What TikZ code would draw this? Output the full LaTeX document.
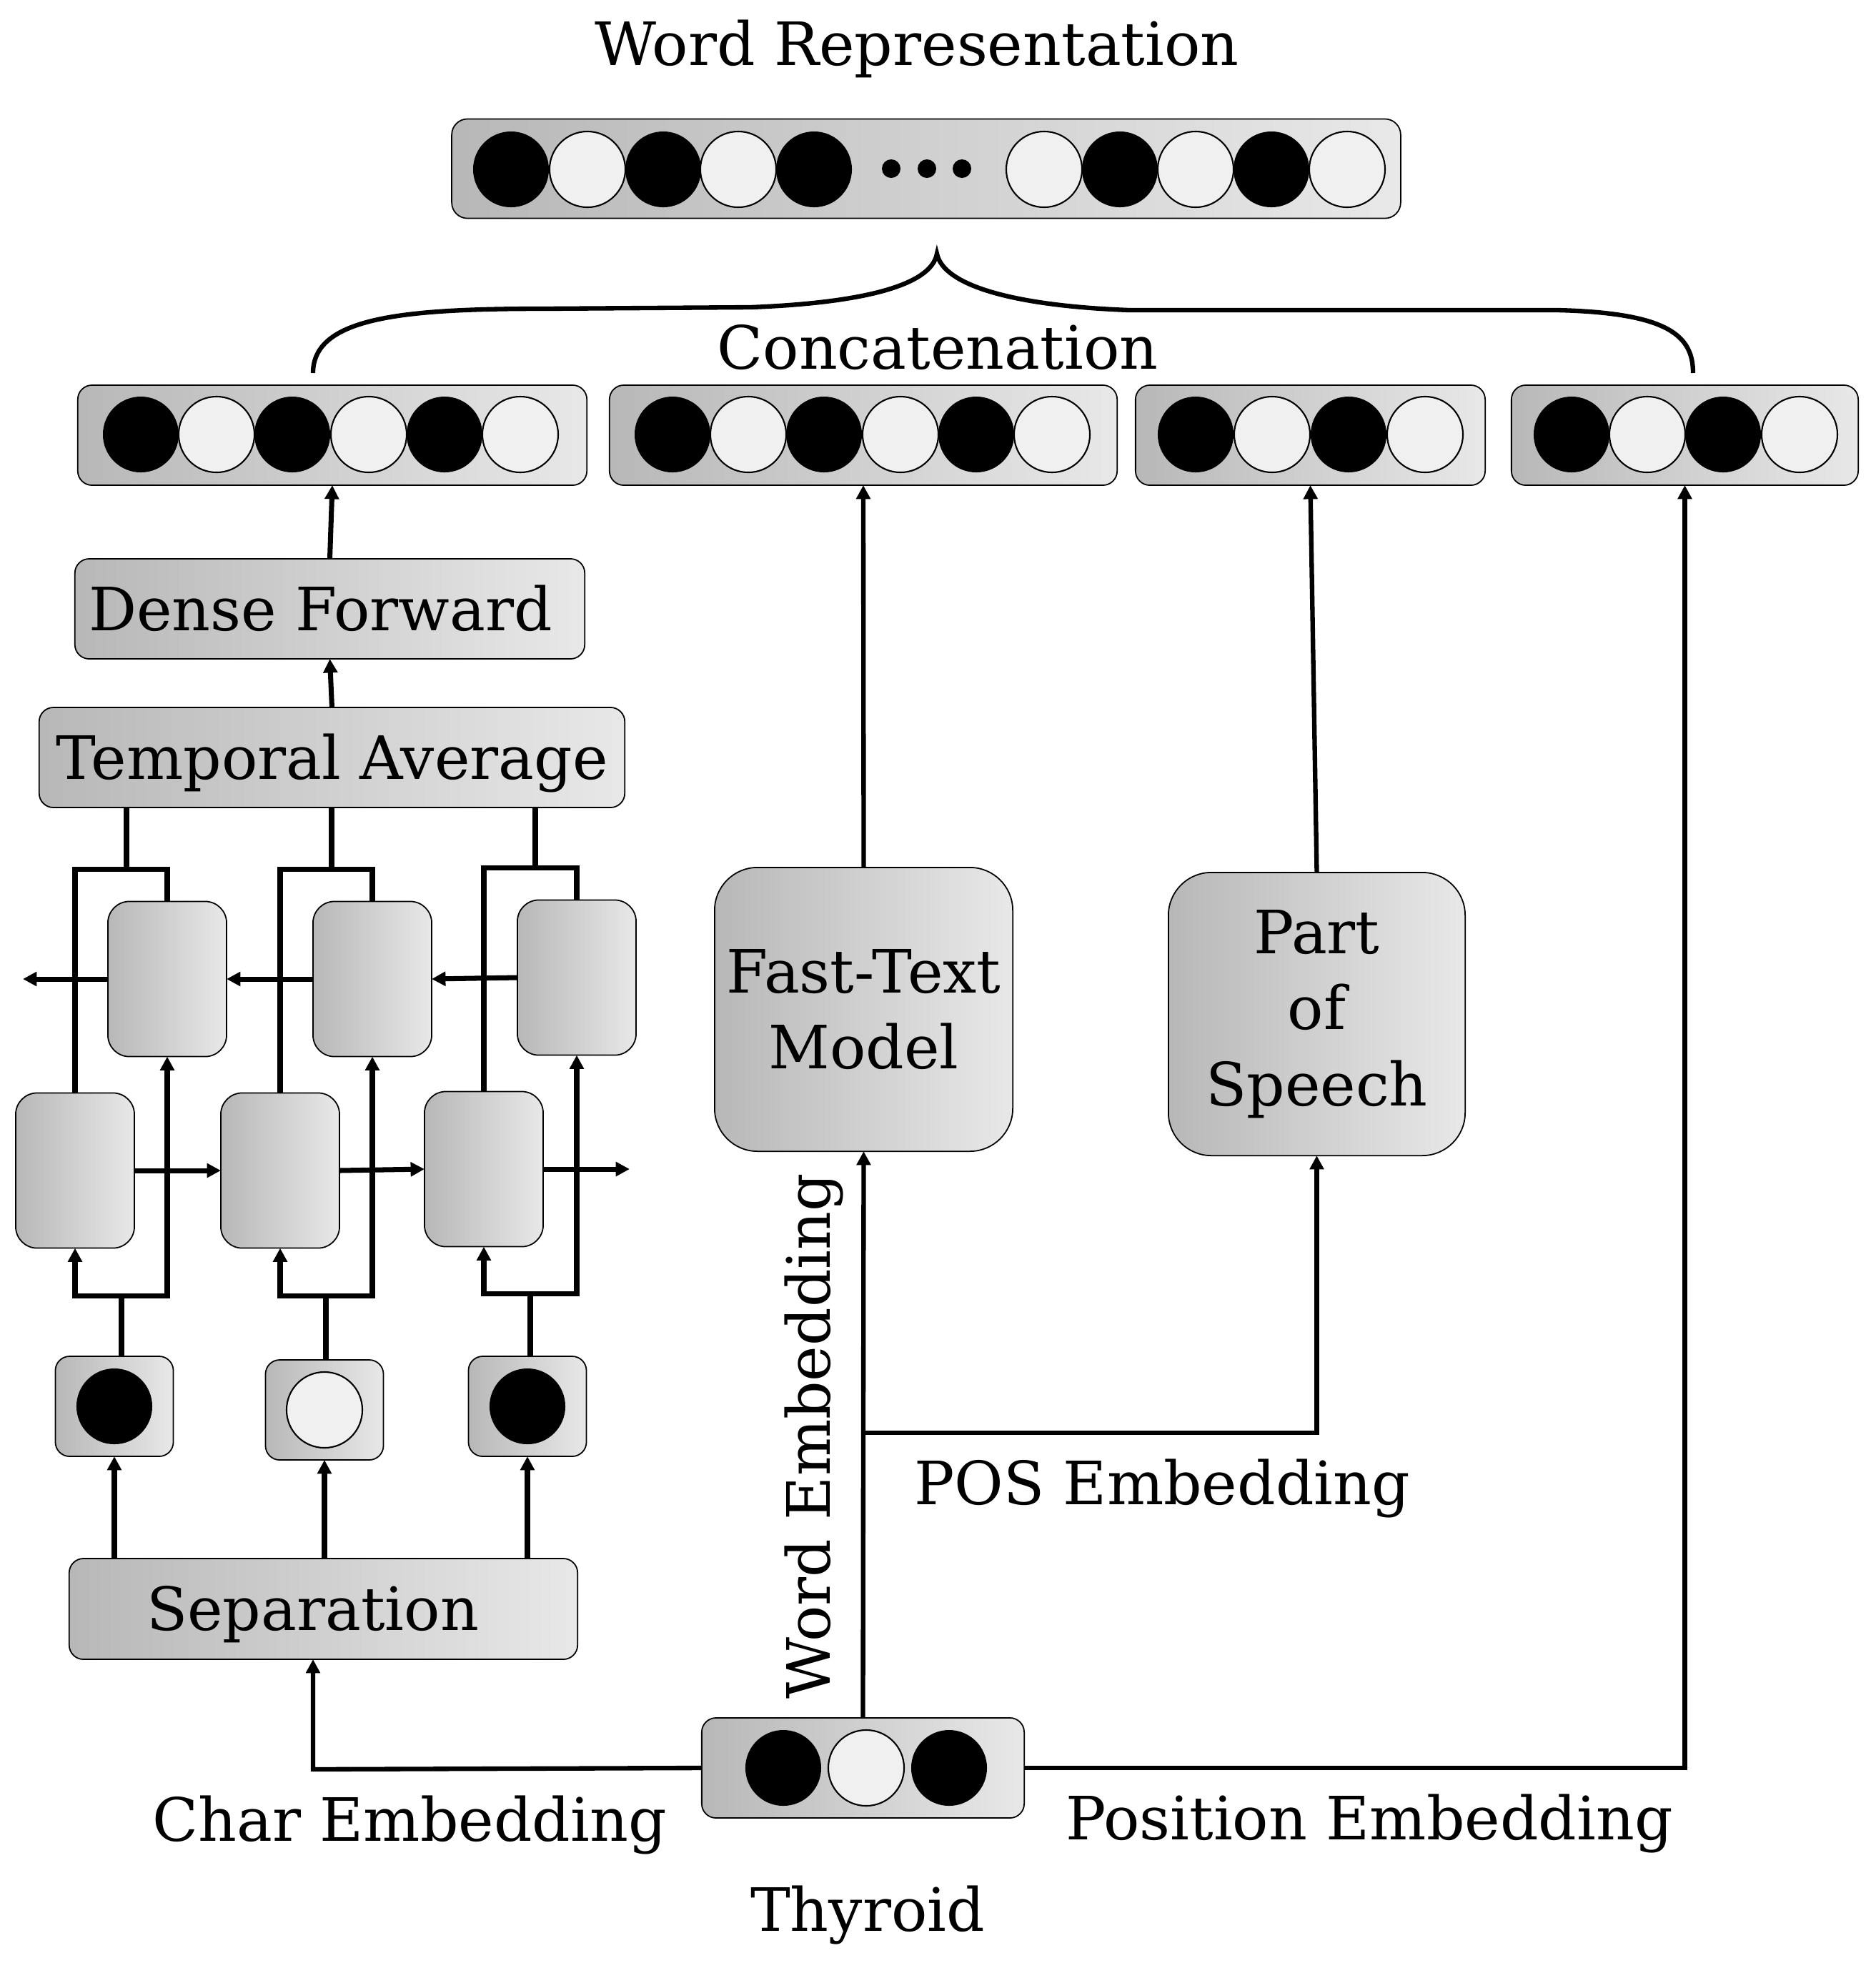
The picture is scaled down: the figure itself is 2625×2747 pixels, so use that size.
\documentclass[tikz,border=0pt]{standalone}
\usepackage{fontspec}
\setmainfont{DejaVu Serif}
\usetikzlibrary{arrows.meta}
\definecolor{gL}{gray}{0.72}
\definecolor{gR}{gray}{0.91}
\definecolor{wc}{gray}{0.94}
\newcommand\myB[2]{\fill[black] (#1,#2) circle[radius=0.53cm];}
\newcommand\myW[2]{\filldraw[fill=wc,draw=black,line width=0.6pt] (#1,#2) circle[radius=0.53cm];}
\begin{document}
\begin{tikzpicture}[x=0.01cm,y=-0.01cm,
  every node/.style={inner sep=0pt,outer sep=0pt,font=\fontsize{23.8pt}{30.2pt}\selectfont},
  gbox/.style={draw=black,line width=0.5pt,shading=axis,left color=gL,right color=gR,rounded corners=#1},
  gbox/.default=0.2cm,
  captxt/.style={text height=17.3pt,text depth=0pt},
  cell/.style={gbox=0.3cm,minimum width=1.66cm,minimum height=2.17cm},
  inbox/.style={gbox=0.2cm,minimum width=1.65cm,minimum height=1.40cm},
  thk/.style={line width=2pt},
  med/.style={line width=1.8pt},
  arr/.style={-{Triangle[length=5.5pt,width=5.5pt]}}
]
\useasboundingbox (0,0) rectangle (2625,2747);

% ---------- top ----------
\node[anchor=base] (wrt) at (1283,91) {Word Representation};
\node[gbox=0.22cm,minimum width=13.27cm,minimum height=1.39cm] (wr) at (1296,236) {};
\foreach \x in {715,928,1139,1567,1779} {\myB{\x}{237}}
\foreach \x in {822,1033,1461,1673,1885} {\myW{\x}{237}}
\foreach \x in {1247,1297,1346} {\fill (\x,236) circle[radius=0.13cm];}

% brace
\draw[line width=1.8pt] (438,522) .. controls (438,445) and (560,432) .. (760,432)
  -- (1050,430) .. controls (1205,424) and (1303,400) .. (1311,355)
  .. controls (1320,400) and (1420,428) .. (1580,434)
  -- (2180,434) .. controls (2335,438) and (2369,470) .. (2369,522);
\node[anchor=base] (cat) at (1312,516) {Concatenation};

% ---------- second row of vectors ----------
\node[gbox=0.2cm,minimum width=7.12cm,minimum height=1.40cm] (barA) at (465,609) {};
\node[gbox=0.2cm,minimum width=7.10cm,minimum height=1.40cm] (barB) at (1208,609) {};
\node[gbox=0.2cm,minimum width=4.89cm,minimum height=1.40cm] (barC) at (1833.5,609) {};
\node[gbox=0.2cm,minimum width=4.85cm,minimum height=1.40cm] (barD) at (2357.5,609) {};
\foreach \x in {197,409,622,941,1153,1366,1673,1887,2199,2411} {\myB{\x}{608}}
\foreach \x in {303,516,728,1047,1260,1472,1780,1994,2305,2518} {\myW{\x}{608}}

% ---------- left column ----------
\node[gbox=0.2cm,minimum width=7.13cm,minimum height=1.40cm,captxt] (dense) at (461.5,852) {Dense Forward\hspace*{0.26cm}};
\node[gbox=0.2cm,minimum width=8.19cm,minimum height=1.40cm,captxt] (temp) at (464.5,1060) {Temporal Average};

\node[cell] (U1) at (234,1370) {};
\node[cell] (U2) at (521,1370) {};
\node[cell] (U3) at (807,1368) {};
\node[cell] (L1) at (105,1638) {};
\node[cell] (L2) at (392,1638) {};
\node[cell] (L3) at (677,1636) {};

\node[inbox] (in1) at (160,1968) {};
\node[inbox] (in2) at (454,1973) {};
\node[inbox] (in3) at (738,1968) {};
\myB{160}{1968}
\myW{454}{1973}
\myB{738}{1968}

\node[gbox=0.2cm,minimum width=7.11cm,minimum height=1.41cm,captxt] (sep) at (452.5,2251.5) {Separation\hspace*{0.3cm}};

% ---------- middle / right ----------
\node[gbox=0.6cm,minimum width=4.17cm,minimum height=3.97cm,align=center] (ft) at (1208.5,1412.5) {Fast-Text\\Model};
\node[gbox=0.6cm,minimum width=4.15cm,minimum height=3.96cm,align=center] (pos) at (1842.5,1419) {Part\\of\\Speech};

\node[gbox=0.2cm,minimum width=4.51cm,minimum height=1.40cm] (thy) at (1207.5,2474) {};
\myB{1096}{2474}
\myW{1212}{2474}
\myB{1328}{2474}
\node[anchor=base] (thyt) at (1214,2702) {Thyroid};

\node[anchor=base] (chart) at (573,2576) {Char Embedding};
\node[anchor=base] (post) at (1916,2574) {Position Embedding};
\node[anchor=base] (post2) at (1626,2105) {POS Embedding};
\node[anchor=base,rotate=90] (wet) at (1161,2010) {Word Embedding};

% ---------- connectors: left ----------
\draw[thk,arr] (temp.north) -- (dense.south);
\draw[thk,arr] (dense.north) -- (barA.south);

\coordinate (t1) at (177,1216);
\coordinate (t2) at (464,1216);
\coordinate (t3) at (749,1214);
\draw[thk] (L1.north) |- (t1) -| (U1.north);
\draw[thk] (L2.north) |- (t2) -| (U2.north);
\draw[thk] (L3.north) |- (t3) -| (U3.north);
\draw[thk] (t1) -- (t1 |- temp.south);
\draw[thk] (t2) -- (t2 |- temp.south);
\draw[thk] (t3) -- (t3 |- temp.south);

\coordinate (bo) at (32,1370);
\coordinate (fo) at (881,1638);
\draw[thk,arr] (U3.west) -- (U2.east);
\draw[thk,arr] (U2.west) -- (U1.east);
\draw[thk,arr] (U1.west) -- (U1.west -| bo);
\draw[thk,arr] (L1.east) -- (L2.west);
\draw[thk,arr] (L2.east) -- (L3.west);
\draw[thk,arr] (L3.east) -- (L3.east -| fo);

\coordinate (f1) at (170,1813);
\coordinate (f2) at (456,1813);
\coordinate (f3) at (742,1810);
\draw[thk] (f1 |- in1.north) -- (f1);
\draw[thk] (f2 |- in2.north) -- (f2);
\draw[thk] (f3 |- in3.north) -- (f3);
\draw[thk,arr] (f1) -| (L1.south);
\draw[thk,arr] (f1) -| (U1.south);
\draw[thk,arr] (f2) -| (L2.south);
\draw[thk,arr] (f2) -| (U2.south);
\draw[thk,arr] (f3) -| (L3.south);
\draw[thk,arr] (f3) -| (U3.south);

\draw[thk,arr] (sep.north -| in1.south) -- (in1.south);
\draw[thk,arr] (sep.north -| in2.south) -- (in2.south);
\draw[thk,arr] (sep.north -| in3.south) -- (in3.south);

% ---------- connectors: main ----------
\coordinate (ce) at (438,2476);
\draw[med,arr] (thy.west) -- (ce) -- (ce |- sep.south);
\draw[med,arr] (thy.north) -- (ft.south);
\coordinate (pj) at (1208,2005);
\draw[med,arr] (pj) -| (pos.south);
\draw[med,arr] (thy.east) -| (barD.south);
\draw[med,arr] (ft.north) -- (barB.south);
\draw[med,arr] (pos.north) -- (barC.south);
\end{tikzpicture}
\end{document}
